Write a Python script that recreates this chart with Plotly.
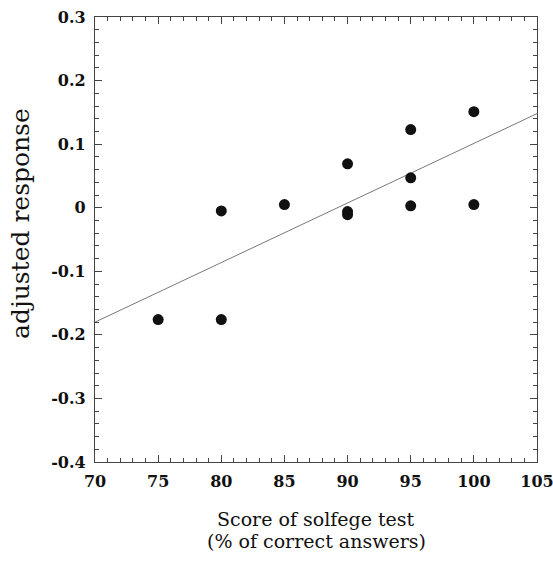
import plotly.graph_objects as go

scores = [75, 80, 80, 85, 90, 90, 90, 95, 95, 95, 100, 100]
responses = [-0.176, -0.176, -0.005, 0.005, 0.069, -0.006, -0.011, 0.123, 0.047, 0.003, 0.151, 0.005]
fit_x = [70, 105]
fit_y = [-0.180, 0.148]

x_ticks = [70, 75, 80, 85, 90, 95, 100, 105]
y_ticks = [-0.4, -0.3, -0.2, -0.1, 0, 0.1, 0.2, 0.3]
y_tick_text = ["-0.4", "-0.3", "-0.2", "-0.1", "0", "0.1", "0.2", "0.3"]

FONT = "DejaVu Serif"

fig = go.Figure()
fig.add_trace(go.Scatter(x=fit_x, y=fit_y, mode="lines",
                         line=dict(color="#555555", width=0.8), showlegend=False))
fig.add_trace(go.Scatter(x=scores, y=responses, mode="markers",
                         marker=dict(color="#111111", size=11), showlegend=False))

axis_common = dict(showgrid=False, zeroline=False, showline=True, linecolor="#444444",
                   linewidth=1.2, mirror="ticks", ticks="inside", ticklen=7,
                   tickcolor="#444444", tickwidth=1, automargin=False,
                   ticklabeloverflow="allow")

fig.update_xaxes(range=[69.999, 105.001], tickvals=x_ticks, ticklabelstandoff=5,
                 tickfont=dict(family=FONT, size=16, color="#111111", weight="bold"),
                 minor=dict(dtick=1, tick0=70, ticks="inside", ticklen=4, tickcolor="#444444"),
                 **axis_common)
fig.update_yaxes(range=[-0.40001, 0.30001], tickvals=y_ticks, ticktext=y_tick_text,
                 ticklabelstandoff=5,
                 tickfont=dict(family=FONT, size=16, color="#111111", weight="bold"),
                 minor=dict(dtick=0.02, tick0=0, ticks="inside", ticklen=4, tickcolor="#444444"),
                 **axis_common)

fig.update_layout(
    width=553, height=562,
    margin=dict(l=95, r=16, t=17, b=100),
    plot_bgcolor="white", paper_bgcolor="white",
    annotations=[
        dict(text="Score of solfege test", x=0.5, xref="paper",
             y=(562 - 100 - 519) / 445, yref="paper",
             showarrow=False, xanchor="center", yanchor="middle",
             font=dict(family=FONT, size=19, color="#111111")),
        dict(text="(% of correct answers)", x=0.5, xref="paper",
             y=(562 - 100 - 541) / 445, yref="paper",
             showarrow=False, xanchor="center", yanchor="middle",
             font=dict(family=FONT, size=19, color="#111111")),
        dict(text="adjusted response", x=(20 - 95) / 442, xref="paper",
             y=(462 - 224) / 445, yref="paper",
             showarrow=False, xanchor="center", yanchor="middle", textangle=-90,
             font=dict(family=FONT, size=25, color="#111111")),
    ],
)

fig.write_html("out.html", config={"displayModeBar": False},
               post_script="document.body.style.margin='0';document.body.style.overflow='hidden';")
